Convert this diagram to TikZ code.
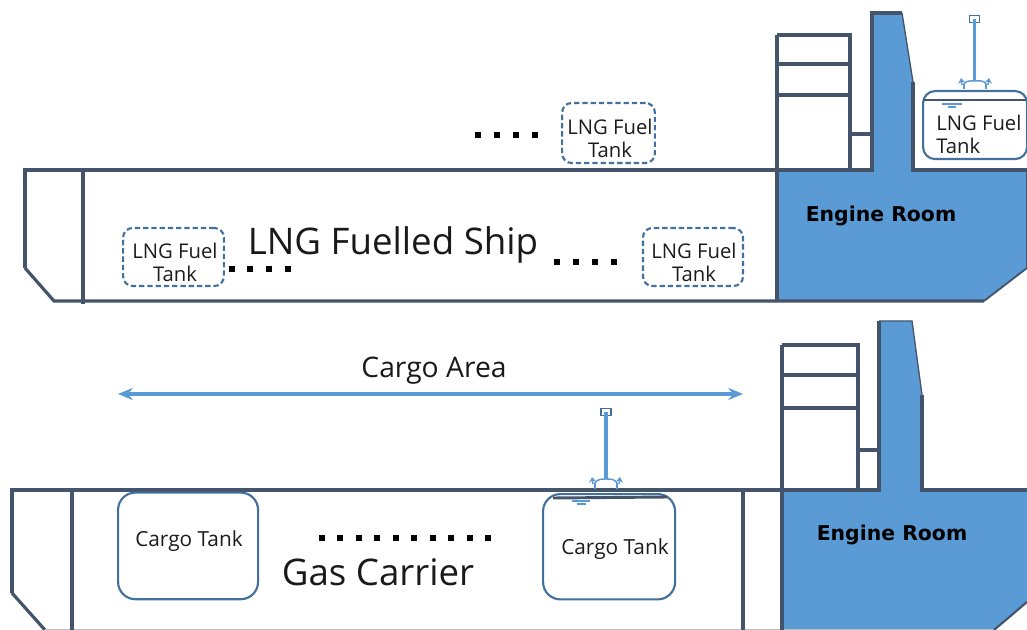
\documentclass[tikz,border=0pt]{standalone}
\usepackage{fontspec}
\setmainfont{Open Sans}
\newfontfamily\boldf{DejaVu Sans}
\usetikzlibrary{arrows.meta}
\definecolor{hull}{HTML}{44546A}
\definecolor{sea}{HTML}{5B9BD5}
\definecolor{rim}{HTML}{41719C}
\definecolor{ink}{HTML}{1C1C1C}
\tikzset{
 x=0.75pt,y=-0.75pt,
 hullline/.style={draw=hull,line width=2.4pt,line join=miter},
 thinhull/.style={draw=hull,line width=1pt},
 room/.style={fill=sea,draw=none},
 solidtank/.style={draw=rim,line width=1.6pt,rounded corners=9pt,fill=white},
 fueltank/.style={draw=rim,line width=1.6pt,dash pattern=on 4pt off 2.2pt,rounded corners=7pt,fill=white},
 tanktext/.style={font=\fontsize{15.2pt}{17.2pt}\selectfont,text=ink,align=center,inner sep=0pt},
 cargotext/.style={font=\fontsize{15.6pt}{17pt}\selectfont,text=ink,inner sep=0pt},
 bigtext/.style={font=\fontsize{27.5pt}{30pt}\selectfont,text=black!90,inner sep=0pt},
 midtext/.style={font=\fontsize{21.2pt}{24pt}\selectfont,text=black!90,inner sep=0pt},
 roomtext/.style={font=\boldf\bfseries\fontsize{15.3pt}{17pt}\selectfont,text=black,inner sep=0pt},
 mastline/.style={draw=sea,line width=2.6pt},
 masthead/.style={draw=rim,line width=1pt,fill=white,minimum width=7.5pt,minimum height=4.8pt,inner sep=0pt},
 swing/.style={draw=sea,line width=1.1pt},
 swingtip/.style={draw=sea,line width=1.1pt,-{Stealth[length=4pt,width=5.5pt]}},
 waterline/.style={draw=sea,line width=1pt},
 spanline/.style={draw=sea,line width=2.6pt,{Stealth[length=11pt,width=9pt]}-{Stealth[length=11pt,width=9pt]}},
 dots/.style={fill=black,minimum size=4pt,inner sep=0pt}
}
\begin{document}
\begin{tikzpicture}
\useasboundingbox (0,0) rectangle (1027,630);
% ---------- upper ship ----------
\fill[room] (777,170)--(872,170)--(872,13)--(902,13)--(913,82)--(913,170)--(1027,170)--(1027,268)--(984,301)--(777,301)--cycle;
\draw[hullline] (25,268)--(25,170)--(777,170);
\draw[hullline] (25,268)--(54,301)--(984,301);
\draw[thinhull,line width=1.4pt] (984,301)--(1027,268);
\draw[hullline] (83,170)--(83,304);
\draw[hullline] (777,35)--(777,301);
\draw[hullline] (777,35)--(850,35)--(850,170);
\draw[hullline] (777,64)--(850,64);
\draw[hullline] (777,95)--(850,95);
\draw[hullline] (850,134)--(872,134);
\draw[hullline] (777,170)--(872,170)--(872,13)--(902,13);
\draw[thinhull] (902,13)--(913,82);
\draw[hullline] (913,82)--(913,170)--(1027,170);
\draw[thinhull] (1027,170)--(1027,268);
% upper fuel tank at the funnel
\node[solidtank,minimum width=78pt,minimum height=51pt,anchor=north west] (tankA) at (922,90) {};
\draw[hull,line width=2.2pt] (923,100)--(1026,100);
\draw[waterline] (942,104)--(962,104) (948,107)--(956,107);
\node[tanktext,align=left,anchor=west] at (936,134) {LNG Fuel\\Tank};
\node[masthead] (headA) at (974.5,19) {};
\coordinate (footA) at (974.5,81);
\draw[mastline] (headA.center)--(footA);
\draw[swing] (964,89)--(964,84) (986,89)--(986,84);
\draw[swing] (964,84) to[out=60,in=180] (footA) to[out=0,in=120] (986,84);
\draw[swingtip] (962,85)--(961,78);
\draw[swingtip] (988,85)--(989,78);
% dashed fuel tanks
\node[fueltank,minimum width=75.5pt,minimum height=43.5pt] (tankB) at (173.5,257) {};
\node[tanktext] at (175,262) {LNG Fuel\\Tank};
\node[fueltank,minimum width=75pt,minimum height=43.5pt] (tankC) at (693,257) {};
\node[tanktext] at (694,262) {LNG Fuel\\Tank};
\node[fueltank,minimum width=69.5pt,minimum height=45pt] (tankD) at (608.5,133) {};
\node[tanktext] at (610,138) {LNG Fuel\\Tank};
\foreach \x in {478,497,516,535} \node[dots] at (\x,135) {};
\foreach \x in {232,250,269,288} \node[dots] at (\x,269) {};
\foreach \x in {557,576,595,614} \node[dots] at (\x,262) {};
\node[bigtext] at (393,245) {LNG Fuelled Ship};
\node[roomtext] at (881,216) {Engine Room};
% ---------- lower ship ----------
\fill[room] (782,490)--(879,490)--(879,321)--(912,321)--(922,395)--(922,490)--(1027,490)--(1027,602)--(994,630)--(782,630)--cycle;
\draw[hullline] (12,593)--(12,490);
\draw[hullline] (10,490)--(782,490);
\draw[hullline] (12,593)--(45,630);
\draw[draw=black!25,line width=0.8pt] (45,629.5)--(994,629.5);
\draw[hullline] (72,490)--(72,630);
\draw[hullline] (743,490)--(743,630);
\draw[hullline] (782,345)--(782,630);
\draw[hullline] (782,345)--(858,345)--(858,490);
\draw[hullline] (782,375)--(858,375);
\draw[hullline] (782,408)--(858,408);
\draw[hullline] (858,450)--(879,450);
\draw[hullline] (782,490)--(879,490)--(879,321);
\draw[thinhull] (879,321)--(912,321)--(922,395);
\draw[hullline] (922,395)--(922,490)--(1027,490);
\draw[hullline,line width=1.6pt] (994,630)--(1027,602);
% cargo tanks
\node[solidtank,rounded corners=13pt,minimum width=105pt,minimum height=80pt,anchor=north west] (cargoA) at (117,491.5) {};
\node[cargotext] at (189,541) {Cargo Tank};
\node[solidtank,rounded corners=13pt,minimum width=99pt,minimum height=79pt,anchor=north west] (cargoB) at (542,493) {};
\draw[hull,line width=2.2pt] (553,498)--(667,497);
\draw[waterline] (572,501)--(590,501) (577,504)--(586,504);
\node[cargotext] at (615,549) {Cargo Tank};
\node[masthead] (headB) at (606,412) {};
\coordinate (footB) at (606,479);
\draw[mastline] (headB.center)--(footB);
\draw[swing] (595,489)--(595,483) (617,489)--(617,483);
\draw[swing] (595,483) to[out=60,in=180] (footB) to[out=0,in=120] (617,483);
\draw[swingtip] (593,484)--(592,477);
\draw[swingtip] (619,484)--(620,477);
\foreach \x in {322,340,359,377,396,414,433,451,470,488} \node[dots] at (\x,538) {};
\node[midtext] (cargolabel) at (434,371) {Cargo Area};
\coordinate (spanL) at (118,394);
\coordinate (spanR) at (743,394);
\draw[spanline] (spanL)--(spanR);
\node[bigtext] at (378,572) {Gas Carrier};
\node[roomtext] at (892,535) {Engine Room};
\end{tikzpicture}
\end{document}
